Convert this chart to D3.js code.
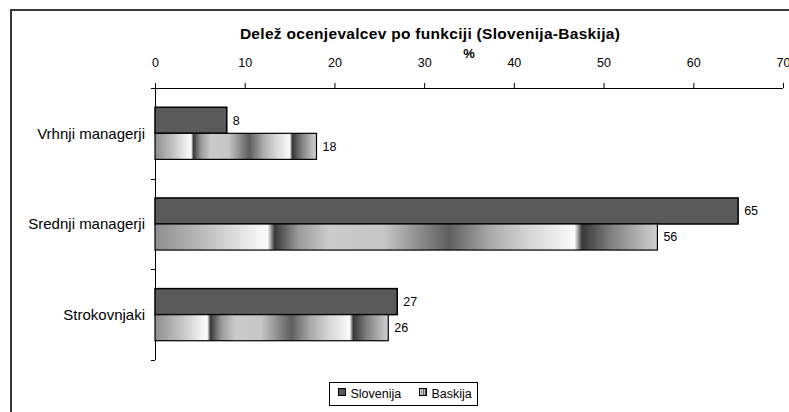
<!DOCTYPE html>
<html>
<head>
<meta charset="utf-8">
<script src="https://cdn.jsdelivr.net/npm/d3@7"></script>
<style>
  html, body { margin: 0; padding: 0; background: #fff; }
  svg { display: block; font-family: "Liberation Sans", Arial, sans-serif; }
</style>
</head>
<body>
<svg id="chart" width="789" height="412"></svg>
<script>
// Categories (job function) and the two countries compared
const categories = ["Vrhnji managerji", "Srednji managerji", "Strokovnjaki"];
const series = ["Slovenija", "Baskija"];
// Share of evaluators per function, in %
const slovenija = [8, 65, 27];
const baskija = [18, 56, 26];
const xTicks = [0, 10, 20, 30, 40, 50, 60, 70];
const titleText = "Delež ocenjevalcev po funkciji (Slovenija-Baskija)";
const axisTitle = "%";

const svg = d3.select("#chart");

// Chart area frame (runs past the right and bottom edges)
svg.append("path")
  .attr("d", "M11,420 L11,10 L800,10")
  .attr("fill", "none")
  .attr("stroke", "#3a3a3a")
  .attr("stroke-width", 2);

// Banded grey gradient used for the Baskija bars
const defs = svg.append("defs");
const grad = defs.append("linearGradient")
  .attr("id", "baskGrad")
  .attr("x1", "0").attr("y1", "0").attr("x2", "1").attr("y2", "0");
[
  [0, "#8e8e8e"], [0.1, "#bdbdbd"], [0.2, "#f2f2f2"], [0.224, "#fbfbfb"],
  [0.238, "#3a3a3a"], [0.285, "#9a9a9a"], [0.345, "#cbcbcb"], [0.455, "#c6c6c6"],
  [0.585, "#5e5e5e"], [0.665, "#a8a8a8"], [0.745, "#d6d6d6"], [0.835, "#fafafa"],
  [0.85, "#383838"], [0.91, "#828282"], [1, "#d2d2d2"]
].forEach(([o, c]) => grad.append("stop").attr("offset", o).attr("stop-color", c));

const fills = { Slovenija: "#5a5a5a", Baskija: "url(#baskGrad)" };
const values = { Slovenija: slovenija, Baskija: baskija };

// Plot area
const plotLeft = 155, plotRight = 783, plotTop = 88, plotBottom = 360;

const x = d3.scaleLinear().domain([0, 70]).range([plotLeft, plotRight]);
const y = d3.scaleBand().domain(categories).range([plotTop, plotBottom]).padding(0);
const ySub = d3.scaleBand().domain(series).range([0, y.step()])
  .paddingInner(0).paddingOuter(0.74);

// Title and axis title
svg.append("text")
  .attr("x", 430).attr("y", 39)
  .attr("text-anchor", "middle")
  .attr("font-size", "15.5px").attr("font-weight", "bold")
  .attr("letter-spacing", "0.3px")
  .attr("fill", "#000")
  .text(titleText);

svg.append("text")
  .attr("x", (plotLeft + plotRight) / 2).attr("y", 58)
  .attr("text-anchor", "middle")
  .attr("font-size", "13px").attr("font-weight", "bold")
  .text(axisTitle);

// Top value axis
const xAxis = svg.append("g")
  .attr("transform", `translate(0,${plotTop})`)
  .call(d3.axisTop(x).tickValues(xTicks).tickSize(5).tickPadding(16).tickFormat(d3.format("d")));
xAxis.select(".domain").attr("d", `M${plotLeft - 4},0.5H${plotRight}`).attr("stroke", "#000");
xAxis.selectAll(".tick line").attr("stroke", "#000");
xAxis.selectAll(".tick text").attr("font-size", "12.5px").attr("fill", "#000")
  .attr("font-family", "Liberation Sans, Arial, sans-serif");

// Left category axis with ticks between categories
const yAxis = svg.append("g");
yAxis.append("line")
  .attr("x1", plotLeft + 0.5).attr("x2", plotLeft + 0.5)
  .attr("y1", plotTop).attr("y2", plotBottom)
  .attr("stroke", "#000");
const boundaries = categories.map(c => y(c) + y.step());
yAxis.selectAll("line.tick")
  .data(boundaries)
  .join("line")
  .attr("class", "tick")
  .attr("x1", plotLeft - 4).attr("x2", plotLeft)
  .attr("y1", d => Math.round(d) + 0.5).attr("y2", d => Math.round(d) + 0.5)
  .attr("stroke", "#000");
yAxis.selectAll("text")
  .data(categories)
  .join("text")
  .attr("x", plotLeft - 10)
  .attr("y", d => y(d) + y.step() / 2)
  .attr("dy", "0.35em")
  .attr("text-anchor", "end")
  .attr("font-size", "15px")
  .attr("fill", "#000")
  .text(d => d);

// Bars
const groups = svg.append("g").selectAll("g")
  .data(categories)
  .join("g")
  .attr("transform", d => `translate(0,${y(d)})`);

groups.selectAll("rect")
  .data((c, i) => series.map(s => ({ s, v: values[s][i] })))
  .join("rect")
  .attr("x", x(0))
  .attr("y", d => ySub(d.s))
  .attr("width", d => x(d.v) - x(0))
  .attr("height", ySub.bandwidth())
  .attr("fill", d => fills[d.s])
  .attr("stroke", "#000")
  .attr("stroke-width", d => d.s === "Slovenija" ? 1.5 : 1.2);

groups.selectAll("text")
  .data((c, i) => series.map(s => ({ s, v: values[s][i] })))
  .join("text")
  .attr("x", d => x(d.v) + 6)
  .attr("y", d => ySub(d.s) + ySub.bandwidth() / 2)
  .attr("dy", "0.35em")
  .attr("font-size", "12.5px")
  .attr("fill", "#000")
  .text(d => d.v);

// Legend
const legend = svg.append("g").attr("transform", "translate(329.5,382.5)");
legend.append("rect")
  .attr("width", 148).attr("height", 23)
  .attr("fill", "#fff").attr("stroke", "#000");
const legendX = { Slovenija: 9, Baskija: 90 };
series.forEach(s => {
  legend.append("rect")
    .attr("x", legendX[s]).attr("y", 6)
    .attr("width", 7).attr("height", 7)
    .attr("fill", fills[s]).attr("stroke", "#000");
  legend.append("text")
    .attr("x", legendX[s] + 12).attr("y", 11.5)
    .attr("dy", "0.35em")
    .attr("font-size", "12.5px")
    .attr("fill", "#000")
    .text(s);
});
</script>
</body>
</html>
